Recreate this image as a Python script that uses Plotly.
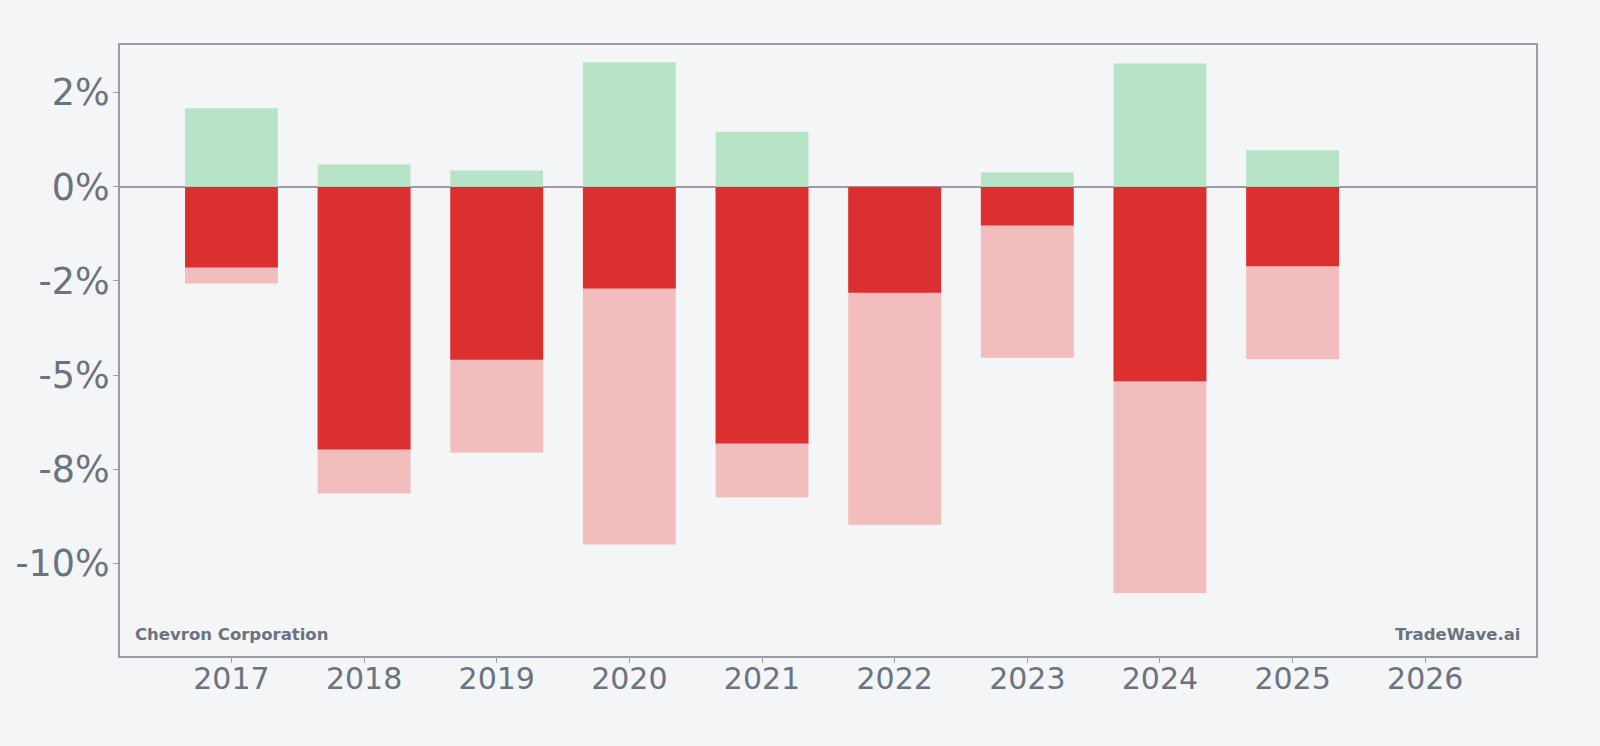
import plotly.graph_objects as go

years = [2017, 2018, 2019, 2020, 2021, 2022, 2023, 2024, 2025]
max_gain = [2.08, 0.59, 0.43, 3.30, 1.46, 0.0, 0.38, 3.27, 0.97]
year_return = [-2.14, -6.97, -4.59, -2.70, -6.81, -2.81, -1.03, -5.16, -2.11]
max_drawdown = [-2.57, -8.14, -7.05, -9.49, -8.24, -8.97, -4.54, -10.78, -4.57]

tick_vals = [2.5, 0, -2.5, -5, -7.5, -10]
tick_text = ["2%", "0%", "-2%", "-5%", "-8%", "-10%"]
x_ticks = list(range(2017, 2027))

GREEN = "#b7e4c7"
DARK_RED = "#dc3030"
LIGHT_RED = "#f4bdbd"
GRAY = "#6b7280"
FRAME = "#9a9ca8"
BG = "#f4f5f7"

fig = go.Figure()
fig.add_trace(go.Bar(x=years, y=max_drawdown, marker=dict(color=LIGHT_RED, line=dict(width=0)), width=0.7))
fig.add_trace(go.Bar(x=years, y=year_return, marker=dict(color=DARK_RED, line=dict(width=0)), width=0.7))
fig.add_trace(go.Bar(x=years, y=max_gain, marker=dict(color=GREEN, line=dict(width=0)), width=0.7))

fig.update_layout(
    barmode="overlay",
    width=1600, height=746,
    margin=dict(l=120, r=64, t=45, b=90),
    paper_bgcolor=BG, plot_bgcolor=BG,
    showlegend=False,
    font=dict(family="DejaVu Sans", color=GRAY),
    xaxis=dict(
        range=[2016.16, 2026.835], tickvals=x_ticks, ticktext=[str(v) for v in x_ticks],
        tickfont=dict(size=30, color=GRAY), showgrid=False, zeroline=False,
        showline=True, linecolor=FRAME, linewidth=2, mirror=True,
        ticks="outside", ticklen=5, tickcolor=FRAME, ticklabelstandoff=-10,
    ),
    yaxis=dict(
        range=[-12.45, 3.76], tickvals=tick_vals, ticktext=tick_text,
        tickfont=dict(size=36.5, color=GRAY), showgrid=False,
        zeroline=True, zerolinecolor=FRAME, zerolinewidth=2,
        showline=True, linecolor=FRAME, linewidth=2, mirror=True,
        ticks="outside", ticklen=5, tickcolor=FRAME, ticklabelstandoff=-4,
    ),
    annotations=[
        dict(text="<b>Chevron Corporation</b>", xref="paper", yref="paper", x=0.009, y=0.016,
             xanchor="left", yanchor="bottom", showarrow=False, font=dict(size=16.5, color=GRAY)),
        dict(text="<b>TradeWave.ai</b>", xref="paper", yref="paper", x=0.99, y=0.016,
             xanchor="right", yanchor="bottom", showarrow=False, font=dict(size=16.5, color=GRAY)),
    ],
)

fig.write_html("out.html")
